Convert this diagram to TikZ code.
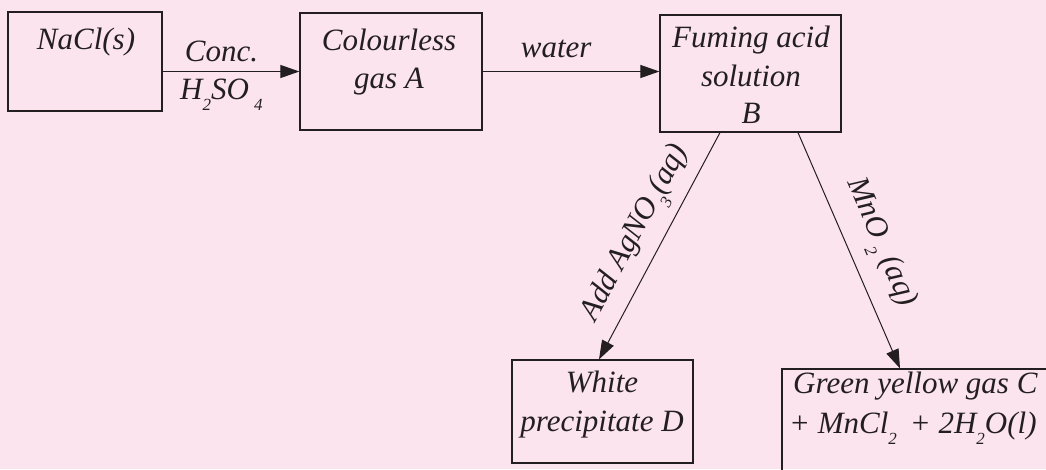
\documentclass[tikz,border=0pt]{standalone}
\usepackage{fontspec}
\setmainfont{Liberation Serif}
\usetikzlibrary{arrows.meta}
\definecolor{bgpink}{RGB}{252,228,238}
\definecolor{ink}{RGB}{35,31,32}
\newcommand{\chsub}[1]{\raisebox{-0.36em}{\fontsize{17}{17}\selectfont #1}}
\begin{document}
\begin{tikzpicture}[x=1pt,y=-1pt,
  box/.style={draw=ink, line width=1.2pt, inner sep=0pt},
  txt/.style={font=\itshape\fontsize{31}{38}\selectfont, text=ink, inner sep=0pt, anchor=base},
  slab/.style={font=\itshape\fontsize{31}{38}\selectfont, text=ink, inner sep=0pt},
  arr/.style={draw=ink, line width=1pt, -{Triangle[length=19pt,width=13pt]}}]
\useasboundingbox (0,0) rectangle (1046,469);
\clip (0,0) rectangle (1046,469);
\fill[bgpink] (0,0) rectangle (1046,469);
% boxes
\node[box, minimum width=154pt, minimum height=99pt] (nacl) at (85,61.5) {};
\node[box, minimum width=182pt, minimum height=117pt] (gasA) at (391,71.5) {};
\node[box, minimum width=181pt, minimum height=117pt] (acidB) at (750.5,73.5) {};
\node[box, minimum width=181pt, minimum height=103pt] (ppt) at (602.5,411.5) {};
\node[box, minimum width=280pt, minimum height=111pt] (gasC) at (922,424.5) {};
% box texts
\node[txt] (t1) at (86,49) {NaCl(s)};
\node[txt] (t2a) at (389,50) {Colourless};
\node[txt] (t2b) at (389,88) {gas A};
\node[txt] (t3a) at (751,47) {Fuming acid};
\node[txt] (t3b) at (751,86) {solution};
\node[txt] (t3c) at (751,123) {B};
\node[txt] (t4a) at (602,392) {White};
\node[txt] (t4b) at (602,431) {precipitate D};
\node[txt, anchor=base west] (t5a) at (793,393) {Green yellow gas C};
\node[txt, anchor=base west] (t5b) at (789,433) {+ MnCl\chsub{2}\, + 2H\chsub{2}O(l)};
% connectors
\draw[arr] (nacl.east |- gasA.west) -- (gasA.west)
  node[txt, pos=0.43, yshift=10pt] (l1) {Conc.}
  node[txt, pos=0.43, yshift=-28pt] (l2) {H\chsub{2}SO\,\chsub{4}};
\draw[arr] (gasA.east) -- (gasA.east -| acidB.west)
  node[txt, pos=0.416, yshift=14pt] (l3) {water};
\draw[arr] ([xshift=-30.5pt]acidB.south) -- ([xshift=-3.5pt]ppt.north);
\draw[arr] ([xshift=47.5pt]acidB.south) -- ([xshift=-22pt]gasC.north);
% slanted labels
\node[slab, rotate=61.8] (l4) at (637,234) {Add AgNO\chsub{3}(aq)};
\node[slab, rotate=-66.7] (l5) at (879,243) {MnO\,\chsub{2} (aq)};
\end{tikzpicture}
\end{document}
